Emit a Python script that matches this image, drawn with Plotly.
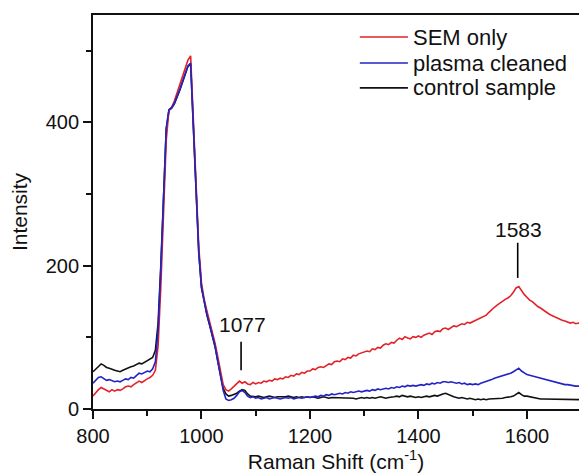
import plotly.graph_objects as go

raman_shift = list(range(800, 1701, 5))

sem_only = [
    18, 23, 27, 30, 28, 25, 24, 27, 25, 27, 26, 28, 31, 32, 31, 34, 36, 39, 37, 40,
    42, 44, 47, 54, 88, 170, 262, 375, 417, 421, 430, 441, 451, 462, 474, 487, 493, 402, 306, 226,
    176, 153, 137, 123, 108, 92, 73, 53, 34, 27, 25, 28, 32, 35, 39, 36, 38, 35, 34, 37,
    35, 37, 36, 39, 38, 40, 39, 42, 41, 43, 42, 45, 44, 47, 46, 49, 48, 51, 50, 53,
    53, 56, 55, 58, 59, 58, 61, 63, 62, 66, 67, 66, 70, 69, 72, 71, 75, 74, 77, 78,
    79, 81, 80, 84, 83, 86, 85, 89, 91, 90, 93, 92, 96, 99, 97, 101, 99, 98, 101, 100,
    102, 100, 103, 104, 106, 104, 108, 109, 108, 112, 113, 111, 114, 116, 115, 117, 119, 118, 121, 120,
    122, 124, 125, 127, 129, 131, 135, 139, 142, 145, 148, 151, 153, 155, 158, 163, 169, 171, 165, 160,
    156, 152, 150, 146, 143, 141, 138, 135, 133, 131, 129, 127, 126, 124, 123, 121, 120, 121, 119, 120, 118,
]

plasma_cleaned = [
    36, 40, 44, 45, 42, 40, 41, 39, 38, 39, 38, 40, 42, 41, 44, 43, 47, 50, 49, 51,
    53, 52, 56, 66, 110, 195, 285, 392, 418, 421, 427, 436, 446, 457, 469, 479, 483, 394, 299, 219,
    170, 148, 132, 118, 104, 88, 67, 46, 26, 14, 12, 13, 15, 19, 24, 26, 23, 18, 16, 17,
    15, 16, 14, 15, 16, 14, 15, 16, 15, 14, 15, 16, 15, 16, 14, 15, 16, 15, 16, 17,
    16, 17, 18, 17, 19, 18, 20, 19, 21, 20, 21, 22, 21, 23, 22, 24, 23, 24, 25, 24,
    25, 26, 25, 27, 26, 28, 27, 28, 29, 28, 30, 29, 31, 30, 32, 31, 33, 32, 33, 32,
    33, 34, 33, 35, 34, 36, 35, 37, 36, 38, 38, 37, 38, 37, 36, 37, 35, 36, 34, 35,
    34, 35, 34, 36, 37, 38, 40, 41, 43, 44, 46, 47, 48, 49, 50, 52, 55, 57, 53, 50,
    48, 47, 46, 44, 43, 42, 41, 40, 39, 38, 37, 36, 36, 35, 34, 34, 33, 33, 32, 32, 31,
]

control_sample = [
    52, 56, 60, 63, 61, 58, 57, 55, 54, 53, 52, 54, 56, 57, 59, 60, 62, 64, 63, 65,
    67, 69, 72, 82, 120, 200, 288, 390, 417, 420, 426, 435, 445, 456, 468, 478, 482, 393, 298, 218,
    169, 147, 131, 117, 103, 87, 67, 48, 29, 21, 18, 19, 20, 22, 25, 27, 26, 21, 18, 17,
    17, 18, 17, 16, 17, 18, 17, 16, 17, 17, 16, 17, 18, 17, 16, 17, 16, 17, 16, 17,
    16, 17, 16, 15, 16, 17, 16, 15, 16, 16, 15, 16, 15, 16, 15, 16, 15, 14, 15, 16,
    15, 16, 15, 16, 15, 16, 17, 16, 15, 16, 16, 17, 18, 17, 19, 18, 17, 18, 17, 16,
    17, 16, 17, 18, 17, 18, 19, 18, 20, 21, 22, 20, 19, 17, 16, 15, 16, 15, 14, 15,
    14, 13, 14, 13, 14, 13, 14, 14, 15, 14, 15, 15, 16, 16, 17, 18, 21, 23, 20, 18,
    18, 17, 16, 15, 15, 14, 14, 14, 13, 14, 13, 14, 13, 13, 14, 13, 13, 14, 13, 13, 13,
]

series_names = ["SEM only", "plasma cleaned", "control sample"]
series_colors = ["#e3222a", "#2323c4", "#111111"]

peak_labels = ["1077", "1583"]
peak_x = [1073, 1583]
peak_line_y0 = [54, 183]
peak_line_y1 = [94, 232]
peak_text_y = [118, 250]

x_ticks = [800, 1000, 1200, 1400, 1600]
y_ticks = [0, 200, 400]

FONT = "Arial, Liberation Sans, sans-serif"

fig = go.Figure()
for name, ys, col in [
    (series_names[2], control_sample, series_colors[2]),
    (series_names[0], sem_only, series_colors[0]),
    (series_names[1], plasma_cleaned, series_colors[1]),
]:
    fig.add_trace(go.Scatter(x=raman_shift, y=ys, mode="lines", name=name,
                             line=dict(color=col, width=1.6), hoverinfo="skip"))

shapes = []
annotations = []
for lab, px, y0, y1, ty in zip(peak_labels, peak_x, peak_line_y0, peak_line_y1, peak_text_y):
    shapes.append(dict(type="line", xref="x", yref="y", x0=px, x1=px, y0=y0, y1=y1,
                       line=dict(color="black", width=1.6)))
    annotations.append(dict(x=px + 2, y=ty, xref="x", yref="y", text=lab, showarrow=False,
                            font=dict(family=FONT, size=21, color="#111"),
                            xanchor="center", yanchor="middle"))

# manual legend
leg_y = [0.944, 0.878, 0.815]
for name, col, ly in zip(series_names, series_colors, leg_y):
    shapes.append(dict(type="line", xref="paper", yref="paper", x0=0.549, x1=0.648,
                       y0=ly, y1=ly, line=dict(color=col, width=1.6)))
    annotations.append(dict(x=0.655, y=ly, xref="paper", yref="paper", text=name,
                            showarrow=False, xanchor="left", yanchor="middle",
                            font=dict(family=FONT, size=22, color="#111")))

fig.update_layout(
    width=579, height=473,
    margin=dict(l=93, r=0, t=15, b=64),
    paper_bgcolor="white", plot_bgcolor="white",
    showlegend=False,
    font=dict(family=FONT, size=20, color="#111"),
    shapes=shapes, annotations=annotations,
)
fig.update_xaxes(
    range=[800, 1696], tickvals=x_ticks, ticks="outside", ticklen=8, tickwidth=1.5,
    tickcolor="#111", showline=True, linewidth=1.8, linecolor="#111", mirror=True,
    showgrid=False, zeroline=False,
    minor=dict(ticks="outside", ticklen=5, tickwidth=1.5, tickcolor="#111", dtick=100, tick0=800),
    tickfont=dict(family=FONT, size=20, color="#111"),
    title=dict(text="Raman Shift (cm<sup>-1</sup>)", font=dict(family=FONT, size=21, color="#111"),
               standoff=8),
)
fig.update_yaxes(
    range=[0, 550], tickvals=y_ticks, ticks="outside", ticklen=8, tickwidth=1.5,
    tickcolor="#111", showline=True, linewidth=1.8, linecolor="#111", mirror=False,
    showgrid=False, zeroline=False,
    minor=dict(ticks="outside", ticklen=5, tickwidth=1.5, tickcolor="#111", dtick=100, tick0=0),
    tickfont=dict(family=FONT, size=20, color="#111"),
    title=dict(text="Intensity", font=dict(family=FONT, size=21, color="#111"), standoff=12),
)

fig.write_html("out.html")
